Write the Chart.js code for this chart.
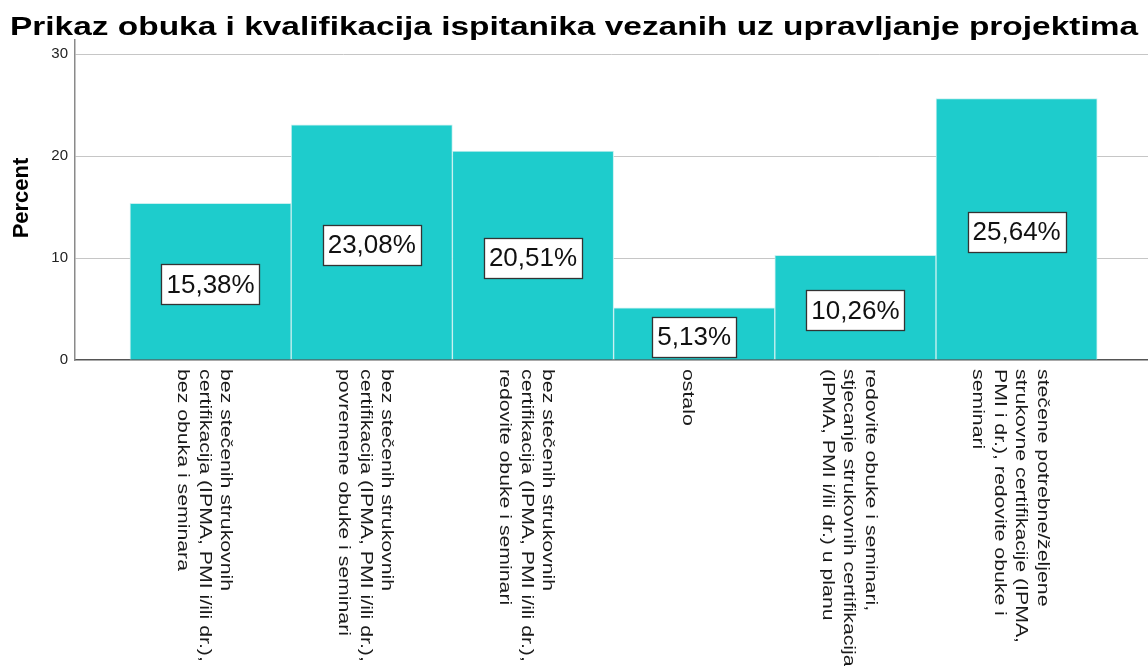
<!DOCTYPE html>
<html>
<head>
<meta charset="utf-8">
<script src="https://cdn.jsdelivr.net/npm/chart.js@4.4.1/dist/chart.umd.min.js"></script>
<style>
  html, body { margin: 0; padding: 0; background: #fff; overflow: hidden; }
  #wrap { width: 1148px; height: 666px; position: relative; }
</style>
</head>
<body>
<div id="wrap"><canvas id="c" width="1148" height="666"></canvas></div>
<script>
const chartTitle = 'Prikaz obuka i kvalifikacija ispitanika vezanih uz upravljanje projektima';
const yAxisTitle = 'Percent';
const categories = [
  ['bez stečenih strukovnih', 'certifikacija (IPMA, PMI i/ili dr.),', 'bez obuka i seminara'],
  ['bez stečenih strukovnih', 'certifikacija (IPMA, PMI i/ili dr.),', 'povremene obuke i seminari'],
  ['bez stečenih strukovnih', 'certifikacija (IPMA, PMI i/ili dr.),', 'redovite obuke i seminari'],
  ['ostalo'],
  ['redovite obuke i seminari,', 'stjecanje strukovnih certifikacija', '(IPMA, PMI i/ili dr.) u planu'],
  ['stečene potrebne/željene', 'strukovne certifikacije (IPMA,', 'PMI i dr.), redovite obuke i', 'seminari']
];
const percentValues = [15.38, 23.08, 20.51, 5.13, 10.26, 25.64];
const yTickValues = [0, 10, 20, 30];

const FONT = "'Liberation Sans', Arial, sans-serif";

const customDraw = {
  id: 'customDraw',
  afterDatasetsDraw(chart) {
    const ctx = chart.ctx;
    const meta = chart.getDatasetMeta(0);
    ctx.save();
    ctx.font = '26px ' + FONT;
    ctx.textAlign = 'center';
    ctx.textBaseline = 'middle';
    meta.data.forEach((el, i) => {
      const txt = percentValues[i].toFixed(2).replace('.', ',') + '%';
      const w = ctx.measureText(txt).width + 10;
      const h = 40;
      const cx = el.x;
      const cy = (el.y + el.base) / 2 + 3;
      ctx.fillStyle = '#ffffff';
      ctx.fillRect(Math.round(cx - w / 2) + 0.5, Math.round(cy - h / 2) + 0.5, Math.round(w), h);
      ctx.strokeStyle = '#333333';
      ctx.lineWidth = 1.3;
      ctx.strokeRect(Math.round(cx - w / 2) + 0.5, Math.round(cy - h / 2) + 0.5, Math.round(w), h);
      ctx.fillStyle = '#111111';
      ctx.fillText(txt, cx, cy + 1);
    });
    ctx.restore();
  },
  afterDraw(chart) {
    const ctx = chart.ctx;
    const xs = chart.scales.x;
    // Title
    ctx.save();
    ctx.font = 'bold 26px ' + FONT;
    ctx.fillStyle = '#000';
    ctx.textAlign = 'left';
    ctx.textBaseline = 'alphabetic';
    const tw = ctx.measureText(chartTitle).width;
    const sx = 1128 / tw;
    ctx.translate(10, 35);
    ctx.scale(sx, 1);
    ctx.fillText(chartTitle, 0, 0);
    ctx.restore();

    // Y axis title
    ctx.save();
    ctx.font = 'bold 22px ' + FONT;
    ctx.fillStyle = '#000';
    ctx.textAlign = 'center';
    ctx.textBaseline = 'alphabetic';
    ctx.translate(28, 198);
    ctx.rotate(-Math.PI / 2);
    ctx.fillText(yAxisTitle, 0, 0);
    ctx.restore();

    // X labels rotated clockwise
    ctx.save();
    ctx.font = '17px ' + FONT;
    ctx.fillStyle = '#1a1a1a';
    ctx.textAlign = 'left';
    ctx.textBaseline = 'alphabetic';
    categories.forEach((lines, i) => {
      const tx = xs.getPixelForValue(i);
      const n = lines.length;
      lines.forEach((line, j) => {
        const bx = tx - 11 + ((n - 1) / 2 - j) * 21.5;
        ctx.save();
        ctx.translate(bx, 369);
        ctx.rotate(Math.PI / 2);
        ctx.scale(1.25, 1);
        ctx.fillText(line, 0, 0);
        ctx.restore();
      });
    });
    ctx.restore();
  }
};

new Chart(document.getElementById('c'), {
  type: 'bar',
  data: {
    datasets: [{
      data: percentValues.map((v, i) => ({ x: i, y: v })),
      backgroundColor: '#1ecccc',
      borderColor: '#c8f0f0',
      borderWidth: 1,
      barPercentage: 1,
      categoryPercentage: 1
    }]
  },
  options: {
    responsive: false,
    animation: false,
    layout: { padding: { left: 0, right: 0, top: 40, bottom: 0 } },
    plugins: { legend: { display: false }, tooltip: { enabled: false }, title: { display: false } },
    scales: {
      x: {
        type: 'linear',
        offset: false,
        min: -0.841,
        max: 5.815,
        afterBuildTicks: s => { s.ticks = categories.map((_, i) => ({ value: i })); },
        afterFit: s => { s.height = 306; },
        ticks: { display: false },
        grid: { display: false, offset: false },
        border: { display: true, color: '#555555', width: 1.5 }
      },
      y: {
        min: 0,
        max: 31.4,
        afterBuildTicks: s => { s.ticks = yTickValues.map(v => ({ value: v })); },
        afterFit: s => { s.width = 75; },
        ticks: {
          color: '#222',
          font: { family: FONT, size: 15 },
          padding: 7,
          callback: v => String(v)
        },
        grid: {
          drawTicks: false,
          color: ctx => (ctx.tick && ctx.tick.value === 0) ? 'rgba(0,0,0,0)' : '#c6c6c6',
          lineWidth: 1
        },
        border: { display: true, color: '#8a8a8a', width: 1.5 }
      }
    }
  },
  plugins: [customDraw]
});
</script>
</body>
</html>
